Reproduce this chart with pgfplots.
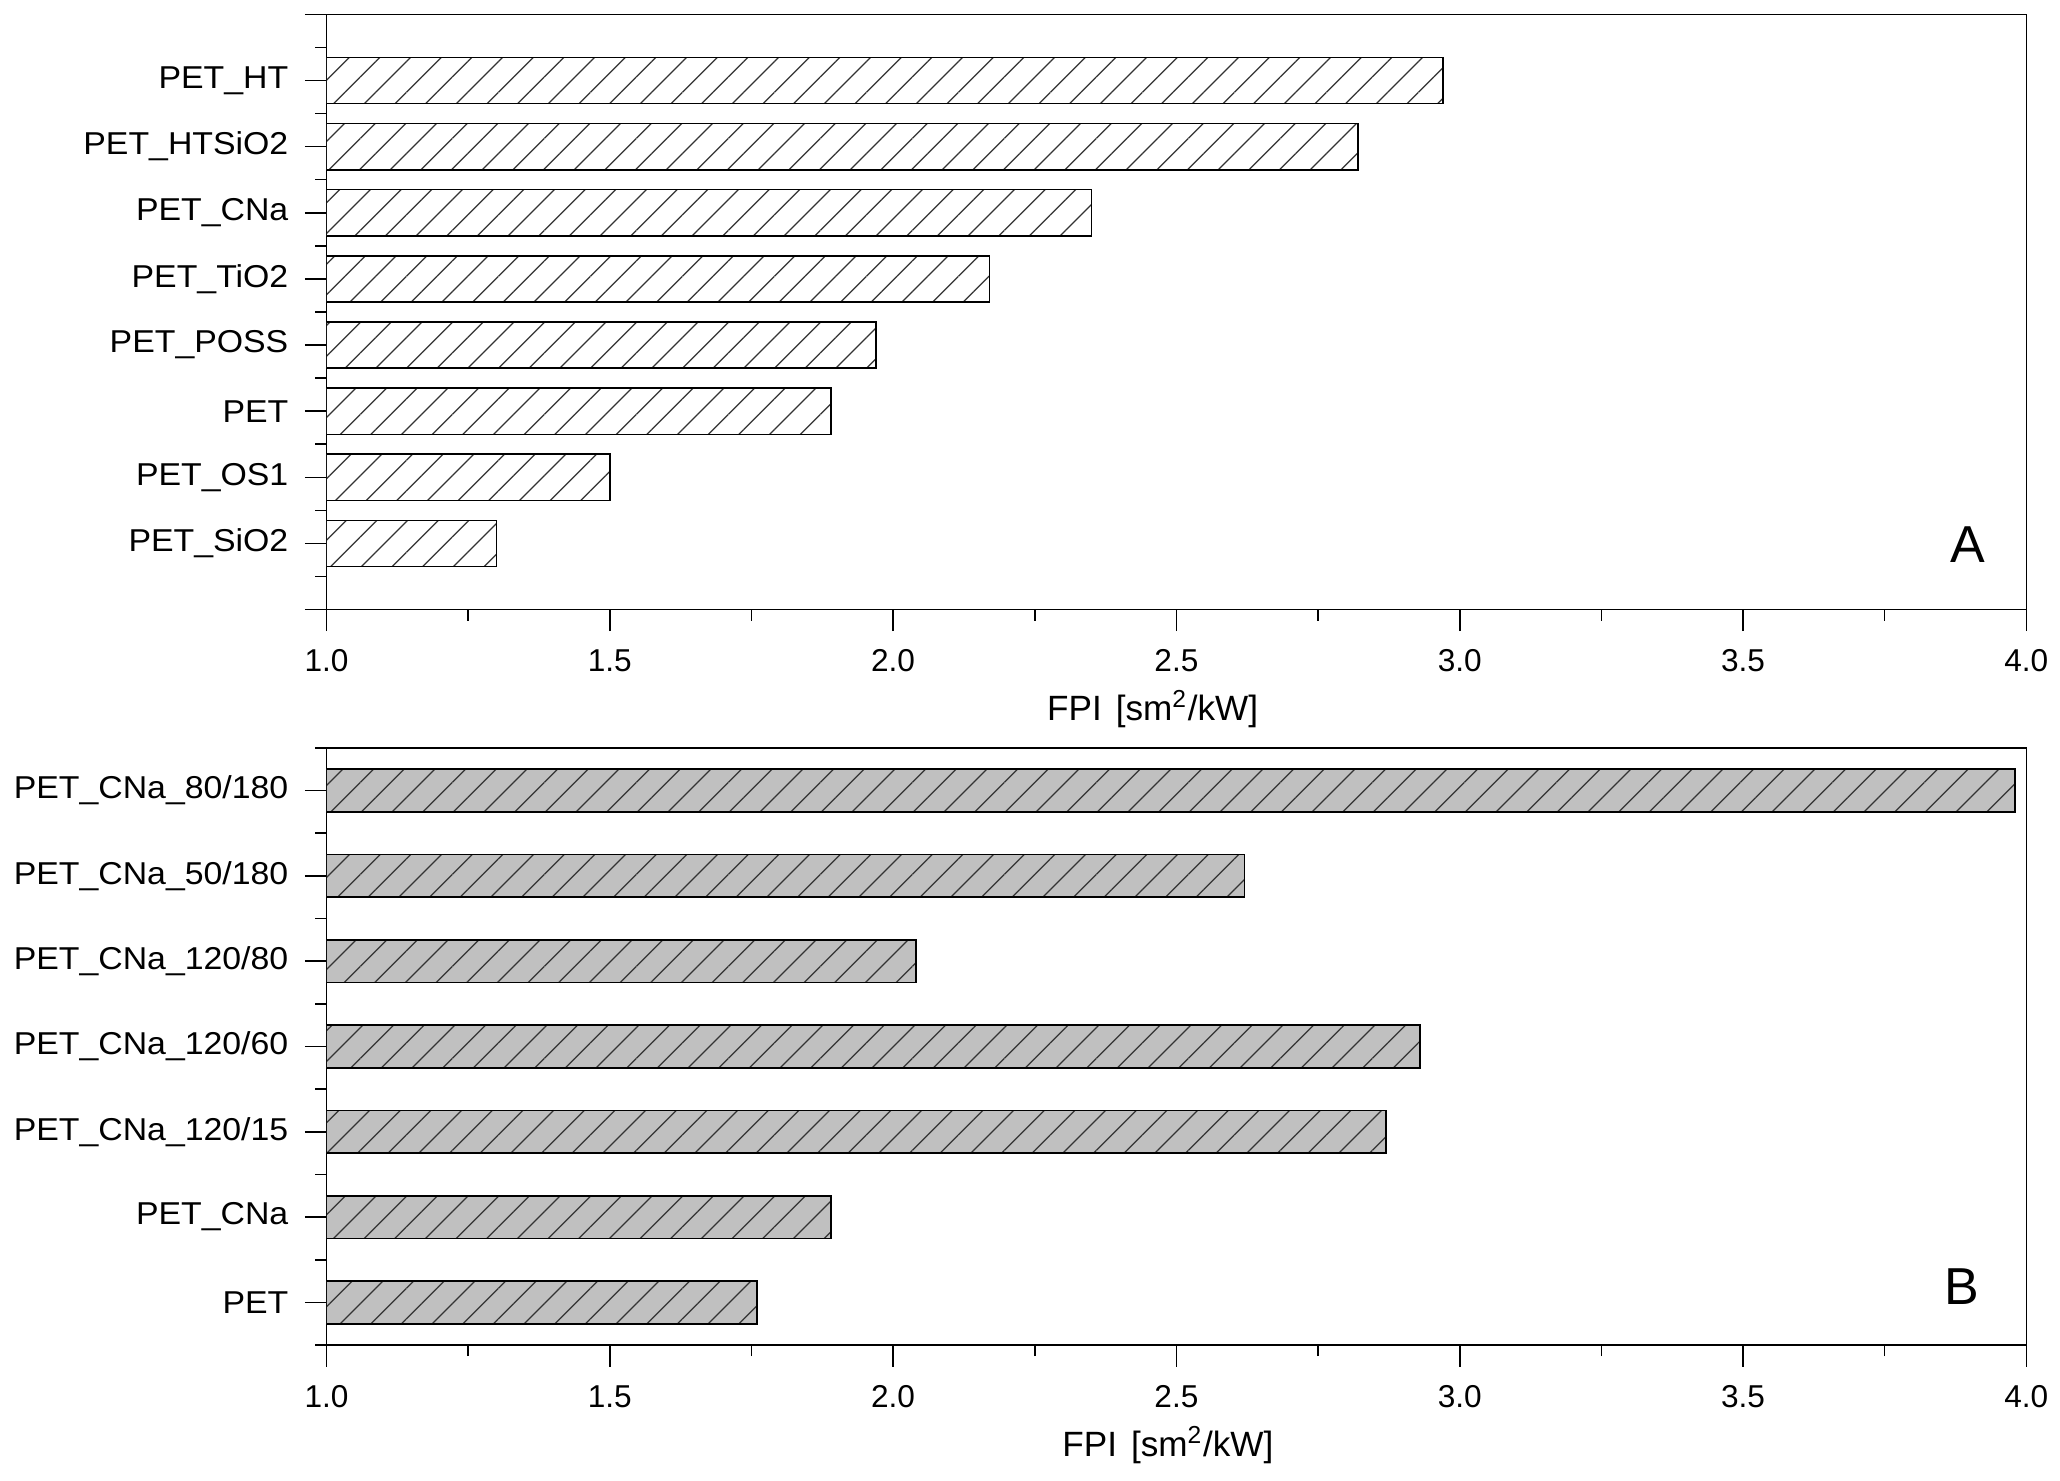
\documentclass[border=0pt]{standalone}
\usepackage{fontspec}
\setmainfont{Liberation Sans}
\newfontfamily\catfont[FakeStretch=1.07]{Liberation Sans}
\usepackage{pgfplots}
\pgfplotsset{compat=1.18}
\usetikzlibrary{patterns.meta}

\definecolor{barfill}{RGB}{192,192,192}
\newcommand{\lblfont}{\fontsize{9}{10.8}\selectfont}

\pgfplotsset{
  hatched/.style={xbar, bar width=#1, bar shift=0pt, draw=black, line width=0.45pt,
    pattern={Lines[angle=45,distance=0.217cm,line width=0.35pt]},
    pattern color=black!80},
  panel/.style={
    scale only axis,
    width=17.01cm,
    anchor=south west,
    xmin=1, xmax=4,
    xtick={1,1.5,2,2.5,3,3.5,4},
    xticklabels={1.0,1.5,2.0,2.5,3.0,3.5,4.0},
    minor x tick num=1,
    tick align=outside,
    xtick pos=bottom, ytick pos=left,
    major tick length=0.215cm,
    minor tick length=0.11cm,
    axis line style={line width=0.45pt},
    every tick/.style={black, line width=0.45pt},
    tick label style={font=\lblfont},
    xticklabel style={anchor=base, yshift=-0.405cm},
    yticklabel style={anchor=east, inner sep=0pt, xshift=-0.16cm, font=\catfont\lblfont},
    xlabel={FPI\hspace{0.4em}[sm\textsuperscript{2}/kW]},
    xlabel style={font=\fontsize{10}{12}\selectfont, anchor=base, yshift=-1.11cm},
  },
}

\begin{document}
\begin{tikzpicture}
\path (0,0) rectangle (20.6,14.81);

% panel A
\begin{axis}[panel,
  at={(3.267cm,8.71cm)},
  height=5.956cm,
  ymin=0, ymax=9,
  ytick={0,1,2,3,4,5,6,7,8,9},
  yticklabels={,PET\_SiO2,PET\_OS1,PET,PET\_POSS,PET\_TiO2,PET\_CNa,PET\_HTSiO2,PET\_HT,},
  minor ytick={0.5,1.5,2.5,3.5,4.5,5.5,6.5,7.5,8.5},
  xlabel style={at={(axis description cs:0.486,0)}},
]
\addplot[hatched=0.7, preaction={fill=white}] coordinates {
  (1.30,1) (1.50,2) (1.89,3) (1.97,4) (2.17,5) (2.35,6) (2.82,7) (2.97,8)
};
\node[font=\fontsize{14.8}{17}\selectfont, inner sep=0pt] at (axis description cs:0.9653,0.1096) {A};
\end{axis}

% panel B
\begin{axis}[panel,
  at={(3.267cm,1.35cm)},
  height=5.977cm,
  ymin=0.5, ymax=7.5,
  ytick={1,2,3,4,5,6,7},
  yticklabels={PET,PET\_CNa,PET\_CNa\_120/15,PET\_CNa\_120/60,PET\_CNa\_120/80,PET\_CNa\_50/180,PET\_CNa\_80/180},
  minor ytick={0.5,1.5,2.5,3.5,4.5,5.5,6.5,7.5},
  xlabel style={at={(axis description cs:0.495,0)}},
]
\addplot[hatched=0.5, preaction={fill=barfill}] coordinates {
  (1.76,1) (1.89,2) (2.87,3) (2.93,4) (2.04,5) (2.62,6) (3.98,7)
};
\node[font=\fontsize{14.8}{17}\selectfont, inner sep=0pt] at (axis description cs:0.9618,0.0987) {B};
\end{axis}
\end{tikzpicture}
\end{document}
